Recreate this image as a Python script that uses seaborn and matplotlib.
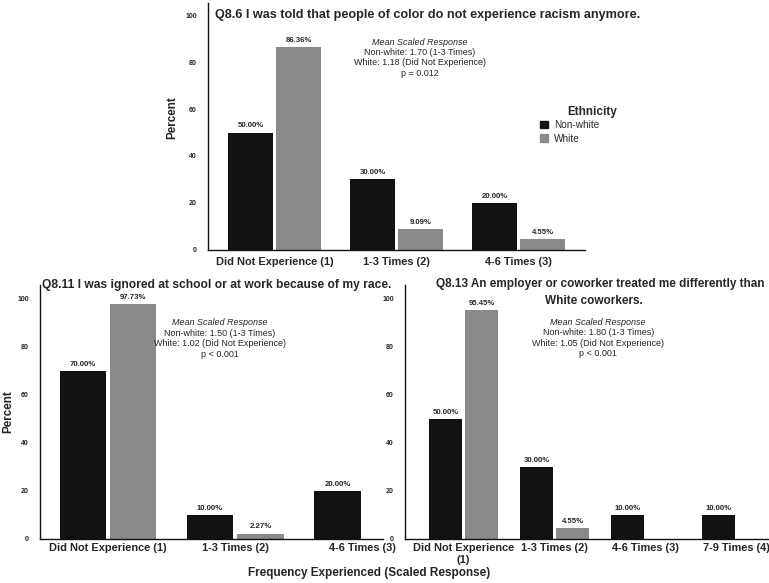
import pandas as pd
import seaborn as sns
import matplotlib.pyplot as plt

# Data
groups = ["Non-white", "White"]

cats_q86 = ["Did Not Experience (1)", "1-3 Times (2)", "4-6 Times (3)"]
nonwhite_q86 = [50.00, 30.00, 20.00]
white_q86 = [86.36, 9.09, 4.55]

cats_q811 = ["Did Not Experience (1)", "1-3 Times (2)", "4-6 Times (3)"]
nonwhite_q811 = [70.00, 10.00, 20.00]
white_q811 = [97.73, 2.27, None]

cats_q813 = ["Did Not Experience\n(1)", "1-3 Times (2)", "4-6 Times (3)", "7-9 Times (4)"]
nonwhite_q813 = [50.00, 30.00, 10.00, 10.00]
white_q813 = [95.45, 4.55, None, None]

notes_q86 = ["Non-white: 1.70 (1-3 Times)", "White: 1.18 (Did Not Experience)", "p = 0.012"]
notes_q811 = ["Non-white: 1.50 (1-3 Times)", "White: 1.02 (Did Not Experience)", "p < 0.001"]
notes_q813 = ["Non-white: 1.80 (1-3 Times)", "White: 1.05 (Did Not Experience)", "p < 0.001"]

palette = {"Non-white": "#111111", "White": "#8a8a8a"}

sns.set_style("white")
plt.rcParams["font.family"] = ["Liberation Sans", "DejaVu Sans"]


def make_df(cats, nw, w):
    rows = []
    for c, a, b in zip(cats, nw, w):
        rows.append({"cat": c, "Ethnicity": "Non-white", "pct": a})
        if b is not None:
            rows.append({"cat": c, "Ethnicity": "White", "pct": b})
    return pd.DataFrame(rows)


def draw(ax, cats, nw, w, notes, note_xy, ylim, xlim, tick_fs, xpad):
    df = make_df(cats, nw, w)
    sns.barplot(data=df, x="cat", y="pct", hue="Ethnicity", order=cats,
                hue_order=groups, palette=palette, width=0.79, gap=0.08,
                saturation=1, ax=ax, legend=False, edgecolor="none")
    # percentage labels on top of bars
    for cont in ax.containers:
        for bar in cont:
            h = bar.get_height()
            if h and h == h:
                ax.text(bar.get_x() + bar.get_width() / 2, h + 1.3, f"{h:.2f}%",
                        ha="center", va="bottom", fontsize=5.6, fontweight="bold")
    ax.set_ylim(*ylim)
    ax.set_xlim(*xlim)
    ax.set_yticks([0, 20, 40, 60, 80, 100])
    ax.tick_params(axis="y", labelsize=5, length=0, pad=8)
    ax.tick_params(axis="x", labelsize=tick_fs, length=0, pad=xpad)
    for t in ax.get_yticklabels() + ax.get_xticklabels():
        t.set_fontweight("bold")
    ax.set_xlabel("")
    ax.set_ylabel("")
    sns.despine(ax=ax)
    for s in ["left", "bottom"]:
        ax.spines[s].set_color("#111111")
        ax.spines[s].set_linewidth(1.0)
    x, y = note_xy
    ax.text(x, y, "Mean Scaled Response", ha="center", va="center",
            fontsize=6.5, style="italic")
    ax.text(x, y - 2.6, "\n".join(notes), ha="center", va="top",
            fontsize=6.5, linespacing=1.18)


fig = plt.figure(figsize=(7.69, 5.83), dpi=100)

ax1 = fig.add_axes([0.2705, 0.5712, 0.4902, 0.4232])
draw(ax1, cats_q86, nonwhite_q86, white_q86, notes_q86, (1.19, 88.5),
     (0, 105), (-0.545, 2.545), 7.9, 5)

ax2 = fig.add_axes([0.052, 0.0755, 0.446, 0.4364])
draw(ax2, cats_q811, nonwhite_q811, white_q811, notes_q811, (0.88, 90),
     (0, 106), (-0.533, 2.16), 7.9, 3)

ax3 = fig.add_axes([0.5267, 0.0755, 0.472, 0.4364])
draw(ax3, cats_q813, nonwhite_q813, white_q813, notes_q813, (1.48, 90.4),
     (0, 106), (-0.643, 3.346), 7.9, 3)

# titles
fig.text(215 / 769, 1 - 15 / 583, "Q8.6 I was told that people of color do not experience racism anymore.",
         ha="left", va="center", fontsize=9.1, fontweight="bold")
fig.text(42 / 769, 1 - 285 / 583, "Q8.11 I was ignored at school or at work because of my race.",
         ha="left", va="center", fontsize=8.65, fontweight="bold")
fig.text(600 / 769, 1 - 284 / 583, "Q8.13 An employer or coworker treated me differently than",
         ha="center", va="center", fontsize=8.5, fontweight="bold")
fig.text(594 / 769, 1 - 301 / 583, "White coworkers.",
         ha="center", va="center", fontsize=8.5, fontweight="bold")

# axis labels
fig.text(172 / 769, 1 - 118 / 583, "Percent", rotation=90, ha="center", va="center",
         fontsize=8.4, fontweight="bold")
fig.text(8 / 769, 1 - 412 / 583, "Percent", rotation=90, ha="center", va="center",
         fontsize=8.4, fontweight="bold")
fig.text(369 / 769, 1 - 573 / 583, "Frequency Experienced (Scaled Response)",
         ha="center", va="center", fontsize=8.5, fontweight="bold")

# legend
fig.text(592 / 769, 1 - 112 / 583, "Ethnicity", ha="center", va="center",
         fontsize=8.5, fontweight="bold")
handles = [plt.Rectangle((0, 0), 1, 1, color=palette[g]) for g in groups]
fig.legend(handles, groups, loc="upper left",
           bbox_to_anchor=(540 / 769, 1 - 120 / 583), frameon=False,
           fontsize=7.2, borderpad=0, borderaxespad=0,
           handlelength=0.8, handleheight=0.8, handletextpad=0.6,
           labelspacing=0.35)

fig.savefig("out.png", dpi=100)
